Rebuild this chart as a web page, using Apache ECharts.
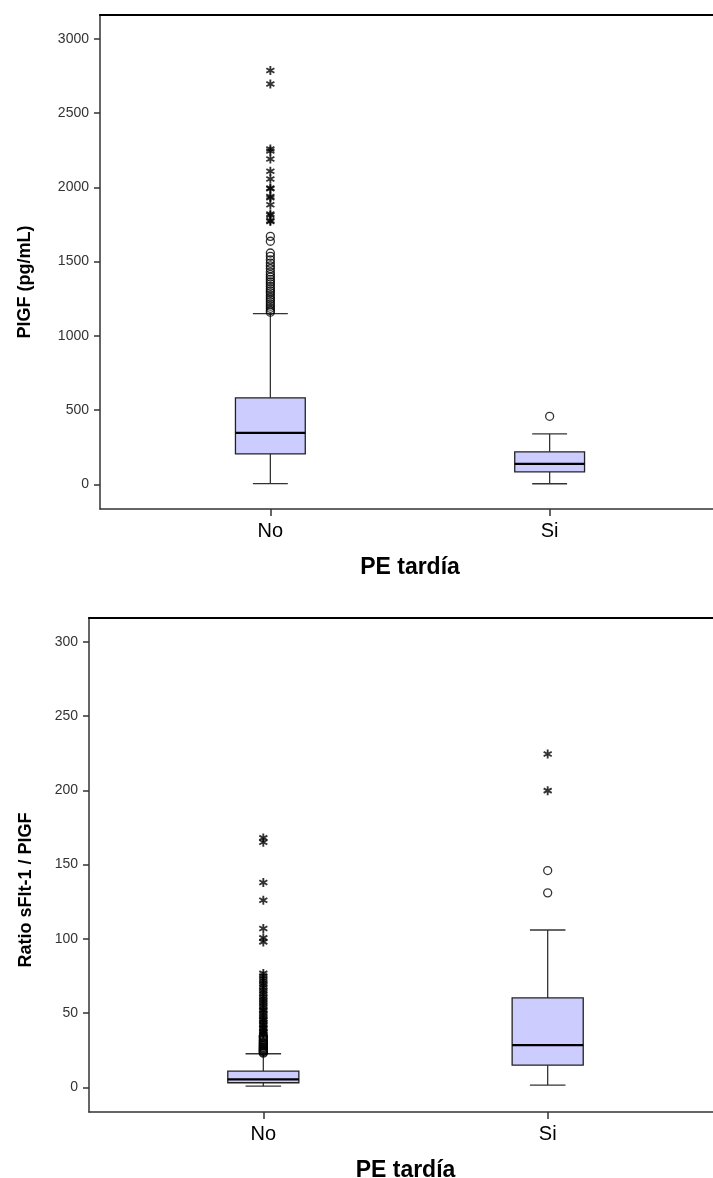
<!DOCTYPE html>
<html>
<head>
<meta charset="utf-8">
<script src="https://cdn.jsdelivr.net/npm/echarts@6/dist/echarts.min.js"></script>
<style>
    html, body { margin: 0; padding: 0; background: #fff; }
    #chart { width: 713px; height: 1178px; }
</style>
</head>
<body>
<div id="chart"></div>
<script>
// grupos del eje x
var categories = ['No', 'Si'];

// ticks de los ejes y
var plgfTicks = [0, 500, 1000, 1500, 2000, 2500, 3000];
var ratioTicks = [0, 50, 100, 150, 200, 250, 300];

// caja: [grupo, min, Q1, mediana, Q3, max]
var plgfBox = [
    [0, 6, 206, 348, 583, 1150],
    [1, 5, 85, 139, 220, 341]
];
var ratioBox = [
    [0, 0.9, 3.2, 5.4, 11, 22.7],
    [1, 1.6, 15, 28.5, 60.3, 106]
];

// valores atipicos (circulos) y extremos (asteriscos)
var plgfNoCircles = [1670, 1637, 1558, 1536, 1512, 1490, 1471, 1452, 1430, 1412, 1396, 1380, 1364,
    1350, 1334, 1318, 1303, 1290, 1274, 1259, 1245, 1230, 1214, 1200, 1186, 1171, 1160];
var plgfNoStars = [2787, 2695, 2258, 2245, 2191, 2108, 2056, 1996, 1990, 1939, 1930, 1883, 1821, 1812, 1776, 1770];
var plgfSiCircles = [459];

var ratioNoCircles = [23.1, 23.6, 24.2, 24.5, 25.0, 25.7, 26.1, 26.8, 27.3, 28.0, 28.4, 29.2, 29.9,
    30.6, 31.5, 32.2, 33.4, 34.1, 34.8];
var ratioNoStars = [35.5, 36.4, 37.2, 38.1, 39.5, 40.3, 41.8, 42.6, 43.9, 45.2, 46.0, 47.5, 48.8, 50.1,
    51.7, 52.4, 54.0, 55.3, 56.9, 58.2, 59.6, 61.0, 62.7, 64.1, 65.5, 67.3, 68.8, 70.2, 71.9, 73.4,
    75.0, 76.8, 98, 100.7, 107, 126, 138, 165, 168];
var ratioSiCircles = [146, 131];
var ratioSiStars = [224.4, 199.8];

var FONT = "'Liberation Sans', Arial, sans-serif";
// asterisco de tres brazos
var STAR = 'path://M-0.2,-1L0.2,-1L0.2,1L-0.2,1Z' +
    'M-0.966,-0.327L-0.766,-0.673L0.966,0.327L0.766,0.673Z' +
    'M0.766,-0.673L0.966,-0.327L-0.766,0.673L-0.966,0.327Z';

function toPoints(group, values) {
    var pts = [];
    for (var i = 0; i < values.length; i++) {
        pts.push([group, values[i]]);
    }
    return pts;
}

// dibuja la caja estilo SPSS (bigotes con tope a media anchura)
function renderBox(params, api) {
    var x = api.value(0);
    var pMin = api.coord([x, api.value(1)]);
    var pQ1 = api.coord([x, api.value(2)]);
    var pMed = api.coord([x, api.value(3)]);
    var pQ3 = api.coord([x, api.value(4)]);
    var pMax = api.coord([x, api.value(5)]);
    var half = api.size([0.25, 0])[0] / 2;
    var cap = half / 2;
    var whisker = { stroke: '#333', lineWidth: 1.3 };
    return {
        type: 'group',
        children: [
            { type: 'line', shape: { x1: pQ3[0], y1: pQ3[1], x2: pMax[0], y2: pMax[1] }, style: whisker },
            { type: 'line', shape: { x1: pQ1[0], y1: pQ1[1], x2: pMin[0], y2: pMin[1] }, style: whisker },
            { type: 'line', shape: { x1: pMax[0] - cap, y1: pMax[1], x2: pMax[0] + cap, y2: pMax[1] }, style: whisker },
            { type: 'line', shape: { x1: pMin[0] - cap, y1: pMin[1], x2: pMin[0] + cap, y2: pMin[1] }, style: whisker },
            {
                type: 'rect',
                shape: { x: pQ3[0] - half, y: pQ3[1], width: half * 2, height: pQ1[1] - pQ3[1] },
                style: { fill: '#ccccff', stroke: '#222', lineWidth: 1.3 }
            },
            { type: 'line', shape: { x1: pMed[0] - half, y1: pMed[1], x2: pMed[0] + half, y2: pMed[1] },
              style: { stroke: '#000', lineWidth: 2.2 } }
        ]
    };
}

function valueY(gridIndex, min, max, ticks, title, gap, shift) {
    return {
        type: 'value',
        gridIndex: gridIndex,
        min: min,
        max: max,
        name: title,
        nameLocation: 'middle',
        nameGap: gap,
        nameTextStyle: { fontFamily: FONT, fontSize: 18, fontWeight: 'bold', color: '#000', padding: [0, shift, 0, 0] },
        axisLine: { show: true, onZero: false, lineStyle: { color: '#333', width: 1.5 } },
        axisTick: { show: true, length: 6, customValues: ticks, lineStyle: { color: '#333', width: 1.5 } },
        axisLabel: {
            customValues: ticks, margin: 11, fontFamily: FONT, fontSize: 14, color: '#333',
            formatter: function (v) { return String(v); }
        },
        splitLine: { show: false }
    };
}

function valueX(gridIndex, min, max) {
    return {
        type: 'value',
        gridIndex: gridIndex,
        min: min,
        max: max,
        name: 'PE tardía',
        nameLocation: 'middle',
        nameGap: 47,
        nameTextStyle: { fontFamily: FONT, fontSize: 23, fontWeight: 'bold', color: '#000' },
        axisLine: { show: true, onZero: false, lineStyle: { color: '#333', width: 1.5 } },
        axisTick: { show: true, length: 7, customValues: [0, 1], lineStyle: { color: '#333', width: 1.5 } },
        axisLabel: {
            customValues: [0, 1], margin: 12, fontFamily: FONT, fontSize: 20, color: '#000',
            formatter: function (v) { return categories[Math.round(v)]; }
        },
        splitLine: { show: false }
    };
}

// borde superior del marco
function topBorder(gridIndex, min, max) {
    return {
        type: 'value', gridIndex: gridIndex, position: 'top', min: min, max: max,
        axisLine: { show: true, onZero: false, lineStyle: { color: '#000', width: 2.2 } },
        axisTick: { show: false }, axisLabel: { show: false }, splitLine: { show: false }
    };
}

var myChart = echarts.init(document.getElementById('chart'));
var option = {
    backgroundColor: '#fff',
    animation: false,
    grid: [
        { left: 100, top: 15, width: 620, height: 494, outerBoundsMode: 'none' },
        { left: 89, top: 618, width: 633, height: 494, outerBoundsMode: 'none' }
    ],
    xAxis: [
        valueX(0, -0.61, 1.61),
        valueX(1, -0.613, 1.613),
        topBorder(0, -0.61, 1.61),
        topBorder(1, -0.613, 1.613)
    ],
    yAxis: [
        valueY(0, -165, 3160, plgfTicks, 'PlGF (pg/mL)', 66, 40),
        valueY(1, -16.5, 316, ratioTicks, 'Ratio sFlt-1 / PlGF', 54, 50)
    ],
    series: [
        { type: 'custom', xAxisIndex: 0, yAxisIndex: 0, renderItem: renderBox, data: plgfBox, z: 2 },
        { type: 'custom', xAxisIndex: 1, yAxisIndex: 1, renderItem: renderBox, data: ratioBox, z: 2 },
        {
            type: 'scatter', xAxisIndex: 0, yAxisIndex: 0, symbol: 'circle', symbolSize: 8, z: 3,
            itemStyle: { color: 'rgba(0,0,0,0)', borderColor: '#000', borderWidth: 1.3 },
            data: toPoints(0, plgfNoCircles).concat(toPoints(1, plgfSiCircles))
        },
        {
            type: 'scatter', xAxisIndex: 0, yAxisIndex: 0, symbol: STAR, symbolSize: 9, z: 3,
            itemStyle: { color: '#000' },
            data: toPoints(0, plgfNoStars)
        },
        {
            type: 'scatter', xAxisIndex: 1, yAxisIndex: 1, symbol: 'circle', symbolSize: 8, z: 3,
            itemStyle: { color: 'rgba(0,0,0,0)', borderColor: '#000', borderWidth: 1.3 },
            data: toPoints(0, ratioNoCircles).concat(toPoints(1, ratioSiCircles))
        },
        {
            type: 'scatter', xAxisIndex: 1, yAxisIndex: 1, symbol: STAR, symbolSize: 9, z: 3,
            itemStyle: { color: '#000' },
            data: toPoints(0, ratioNoStars).concat(toPoints(1, ratioSiStars))
        }
    ]
};
myChart.setOption(option);
</script>
</body>
</html>
